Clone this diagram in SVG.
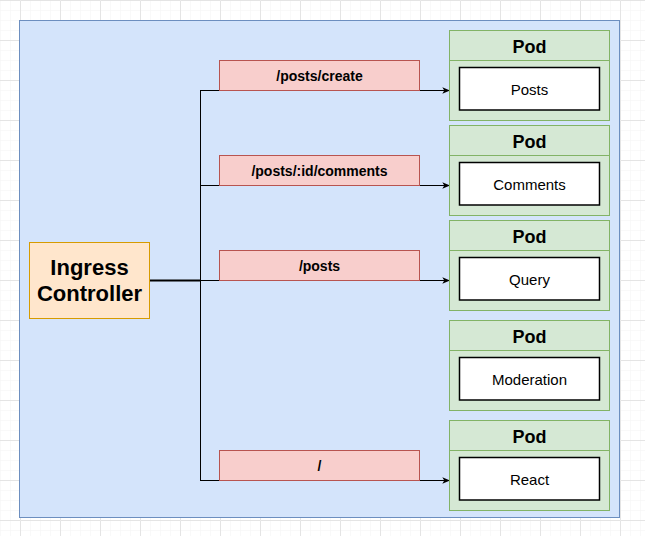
<svg xmlns="http://www.w3.org/2000/svg" width="645" height="536" viewBox="0 0 645 536">
  <defs>
    <pattern id="minor" width="10" height="10" patternUnits="userSpaceOnUse" x="0" y="0">
      <path d="M10 0 L0 0 0 10" fill="none" stroke="#f3f3f3" stroke-width="1"/>
    </pattern>
    <pattern id="major" width="40" height="40" patternUnits="userSpaceOnUse" x="20" y="0">
      <path d="M40 0.5 L0.5 0.5 0.5 40" fill="none" stroke="#e4e4e4" stroke-width="1"/>
    </pattern>
    <marker id="arrow" viewBox="0 0 10 10" refX="9" refY="5" markerWidth="8" markerHeight="8" markerUnits="userSpaceOnUse" orient="auto">
      <path d="M0 1 L10 5 L0 9 L2.5 5 Z" fill="#000"/>
    </marker>
    <style>
      .pod { fill: #d5e8d4; stroke: #82b366; stroke-width: 1; }
      .inner { fill: #ffffff; stroke: #000000; stroke-width: 1.5; }
      .route { fill: #f8cecc; stroke: #b85450; stroke-width: 1; }
      .edge { fill: none; stroke: #000000; stroke-width: 1; }
      .podtitle { font-family: "Liberation Sans", Arial, sans-serif; font-weight: bold; font-size: 18px; text-anchor: middle; fill: #000; }
      .svc { font-family: "Liberation Sans", Arial, sans-serif; font-size: 15px; text-anchor: middle; fill: #000; }
      .rlabel { font-family: "Liberation Sans", Arial, sans-serif; font-weight: bold; font-size: 14px; text-anchor: middle; fill: #000; }
      .ingress { font-family: "Liberation Sans", Arial, sans-serif; font-weight: bold; font-size: 22px; text-anchor: middle; fill: #000; }
    </style>
  </defs>

  <rect x="0" y="0" width="645" height="536" fill="#ffffff"/>
  <rect x="0" y="0" width="645" height="536" fill="url(#minor)"/>
  <rect x="0" y="0" width="645" height="536" fill="url(#major)"/>

  <g id="cluster">
    <rect x="19.5" y="20.5" width="600" height="497" fill="#d4e4fb" stroke="#6c8ebf" stroke-width="1"/>
  </g>

  <g id="connectors">
    <line x1="150" y1="280.5" x2="200" y2="280.5" stroke="#000" stroke-width="2"/>
    <line x1="200.5" y1="90" x2="200.5" y2="480" class="edge"/>
    <line x1="200" y1="90.5" x2="449.5" y2="90.5" class="edge" marker-end="url(#arrow)"/>
    <line x1="200" y1="185.5" x2="449.5" y2="185.5" class="edge" marker-end="url(#arrow)"/>
    <line x1="200" y1="280.5" x2="449.5" y2="280.5" class="edge" marker-end="url(#arrow)"/>
    <line x1="200" y1="480.5" x2="449.5" y2="480.5" class="edge" marker-end="url(#arrow)"/>
  </g>

  <g id="ingress-controller">
    <rect x="29.5" y="242.5" width="120" height="76" fill="#ffe6cc" stroke="#d79b00" stroke-width="1"/>
    <text class="ingress" x="89.5" y="275">Ingress</text>
    <text class="ingress" x="89.5" y="301">Controller</text>
  </g>

  <g id="route-posts-create">
    <rect class="route" x="219.5" y="60.5" width="200" height="30"/>
    <text class="rlabel" x="319.5" y="81">/posts/create</text>
  </g>
  <g id="route-comments">
    <rect class="route" x="219.5" y="155.5" width="200" height="30"/>
    <text class="rlabel" x="319.5" y="176">/posts/:id/comments</text>
  </g>
  <g id="route-posts">
    <rect class="route" x="219.5" y="250.5" width="200" height="30"/>
    <text class="rlabel" x="319.5" y="271">/posts</text>
  </g>
  <g id="route-root">
    <rect class="route" x="219.5" y="450.5" width="200" height="30"/>
    <text class="rlabel" x="319.5" y="471">/</text>
  </g>

  <g id="pod-posts">
    <rect class="pod" x="449.5" y="30.5" width="160" height="90"/>
    <line x1="449.5" y1="60.5" x2="609.5" y2="60.5" stroke="#82b366"/>
    <text class="podtitle" x="529.5" y="53">Pod</text>
    <rect class="inner" x="459.5" y="67.5" width="140" height="42.5"/>
    <text class="svc" x="529.5" y="94.5">Posts</text>
  </g>
  <g id="pod-comments">
    <rect class="pod" x="449.5" y="125.5" width="160" height="90"/>
    <line x1="449.5" y1="155.5" x2="609.5" y2="155.5" stroke="#82b366"/>
    <text class="podtitle" x="529.5" y="148">Pod</text>
    <rect class="inner" x="459.5" y="162.5" width="140" height="42.5"/>
    <text class="svc" x="529.5" y="189.5">Comments</text>
  </g>
  <g id="pod-query">
    <rect class="pod" x="449.5" y="220.5" width="160" height="90"/>
    <line x1="449.5" y1="250.5" x2="609.5" y2="250.5" stroke="#82b366"/>
    <text class="podtitle" x="529.5" y="243">Pod</text>
    <rect class="inner" x="459.5" y="257.5" width="140" height="42.5"/>
    <text class="svc" x="529.5" y="284.5">Query</text>
  </g>
  <g id="pod-moderation">
    <rect class="pod" x="449.5" y="320.5" width="160" height="90"/>
    <line x1="449.5" y1="350.5" x2="609.5" y2="350.5" stroke="#82b366"/>
    <text class="podtitle" x="529.5" y="343">Pod</text>
    <rect class="inner" x="459.5" y="357.5" width="140" height="42.5"/>
    <text class="svc" x="529.5" y="384.5">Moderation</text>
  </g>
  <g id="pod-react">
    <rect class="pod" x="449.5" y="420.5" width="160" height="90"/>
    <line x1="449.5" y1="450.5" x2="609.5" y2="450.5" stroke="#82b366"/>
    <text class="podtitle" x="529.5" y="443">Pod</text>
    <rect class="inner" x="459.5" y="457.5" width="140" height="42.5"/>
    <text class="svc" x="529.5" y="484.5">React</text>
  </g>
</svg>
